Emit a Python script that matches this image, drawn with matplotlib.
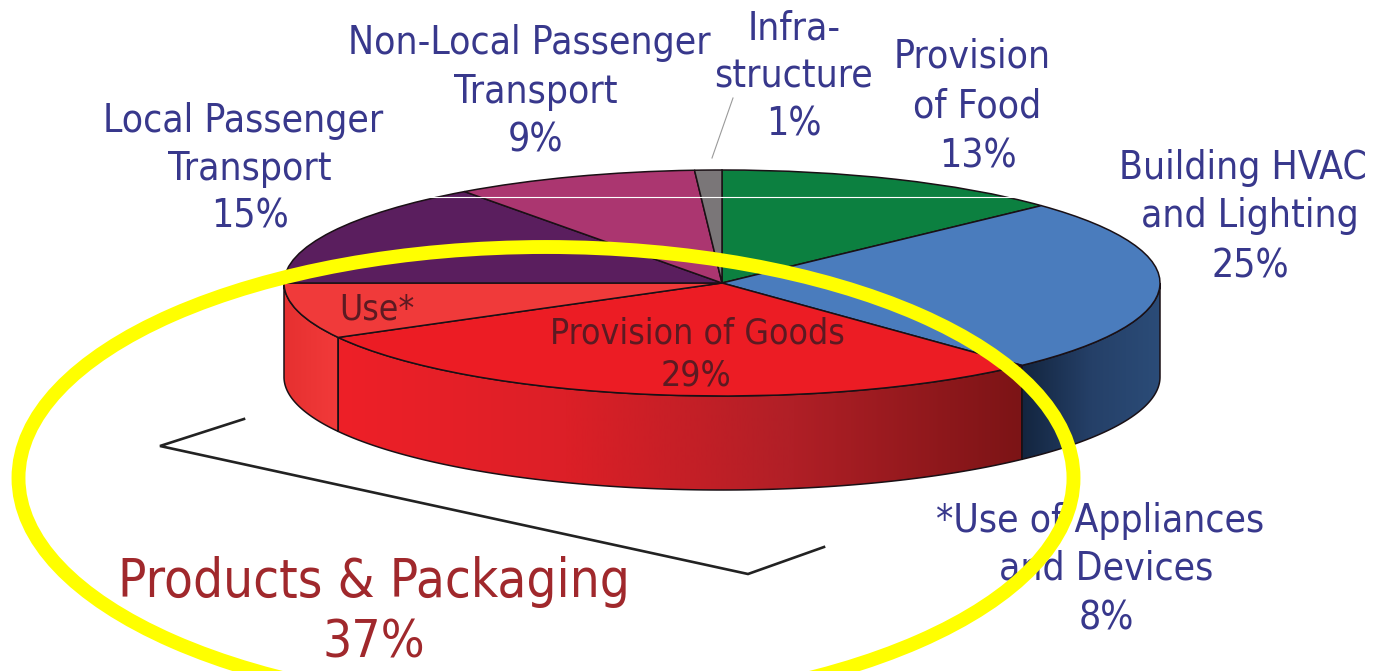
import numpy as np
import matplotlib
matplotlib.use("Agg")
import matplotlib.pyplot as plt
from matplotlib.patches import Ellipse, PathPatch
from matplotlib.path import Path
from matplotlib.transforms import Affine2D
from matplotlib.colors import LinearSegmentedColormap

categories = ["Provision of Food", "Building HVAC and Lighting", "Provision of Goods",
              "Use of Appliances and Devices", "Local Passenger Transport",
              "Non-Local Passenger Transport", "Infrastructure"]
shares = [13, 25, 29, 8, 15, 9, 1]
colors = ["#0c8040", "#4a7cbd", "#ec1c24", "#f03a3a", "#5a1e5e", "#ab3670", "#7a7678"]

W, H = 1376, 671
CX, CY, RX, RY, DEPTH = 722, 283, 438, 113, 94
BLUE, DARK, MAROON = "#38388c", "#5c1a22", "#a0282c"
FONT = dict(family="DejaVu Sans", stretch="condensed")

fig = plt.figure(figsize=(W / 100, H / 100), dpi=100, facecolor="white")
ax = fig.add_axes([0, 0, 1, 1])

wedges, _ = ax.pie(shares, colors=colors, startangle=90, counterclock=False,
                   wedgeprops=dict(edgecolor="#1a1015", linewidth=1.1, zorder=3))
ax.set_aspect("auto")
ax.axis("off")
top = Affine2D().scale(RX, -RY).translate(CX, CY) + ax.transData
for w in wedges:
    w.set_transform(top)

def pt(frac, dy=0):
    a = 2 * np.pi * np.asarray(frac)
    return CX + RX * np.sin(a), CY - RY * np.cos(a) + dy

cum = np.cumsum(shares) / np.sum(shares)

def wall(f0, f1, stops, x0, x1):
    f = np.linspace(f0, f1, 120)
    xt, yt = pt(f)
    xb, yb = pt(f[::-1], DEPTH)
    verts = np.column_stack([np.r_[xt, xb], np.r_[yt, yb]])
    path = Path(np.vstack([verts, verts[0]]), closed=True)
    cmap = LinearSegmentedColormap.from_list("w", stops)
    im = ax.imshow(np.linspace(0, 1, 256)[None, :], cmap=cmap, aspect="auto",
                   extent=[x0, x1, H, 0], zorder=1)
    im.set_clip_path(PathPatch(path, transform=ax.transData))
    ax.add_patch(PathPatch(path, facecolor="none", edgecolor="#1a1015", linewidth=1.1, zorder=2))

wall(0.25, cum[1], ["#2b4c78", "#254068", "#13253f"], 1160, pt(cum[1])[0])
wall(cum[1], cum[2], ["#ee2028", "#dc1f27", "#b01f26", "#7c1416"], pt(cum[2])[0], pt(cum[1])[0])
wall(cum[2], cum[3], ["#e63030", "#f23a3a"], 284, pt(cum[2])[0])
ax.set_xlim(0, W)
ax.set_ylim(H, 0)

# seam left in the source image
ax.plot([425, 1032], [197, 197], color="white", lw=0.8, zorder=4)
# leader for the 1% slice
ax.plot([712, 733], [158, 98], color="#9a9a9a", lw=0.8, zorder=4)
# bracket
ax.plot([244, 160, 748, 824], [419, 446, 574, 547], color="#222222", lw=1.9,
        solid_joinstyle="miter", zorder=4)

def lines(items, color, size):
    for s, x, y in items:
        ax.text(x, y, s, color=color, fontsize=size, ha="center", va="baseline", zorder=5, **FONT)

lines([("Non-Local Passenger", 529, 54), ("Transport", 536, 103), ("9%", 536, 152),
       ("Infra-", 794, 40), ("structure", 794, 88), ("1%", 794, 135),
       ("Provision", 972, 68), ("of Food", 977, 118), ("13%", 978, 167),
       ("Building HVAC", 1243, 179), ("and Lighting", 1250, 227), ("25%", 1250, 277),
       ("Local Passenger", 243, 132), ("Transport", 250, 180), ("15%", 250, 228),
       ("*Use of Appliances", 1100, 532), ("and Devices", 1106, 580), ("8%", 1106, 629)],
      BLUE, 28)
lines([("Use*", 377, 320), ("Provision of Goods", 697, 344), ("29%", 696, 385)], DARK, 25.5)
lines([("Products & Packaging", 374, 597)], MAROON, 38)
lines([("37%", 374, 658)], MAROON, 37)

ax.add_patch(Ellipse((546, 478), 1055, 462, facecolor="none", edgecolor="#ffff00",
                     linewidth=10, zorder=6))

fig.savefig("out.png", dpi=100, facecolor="white")
